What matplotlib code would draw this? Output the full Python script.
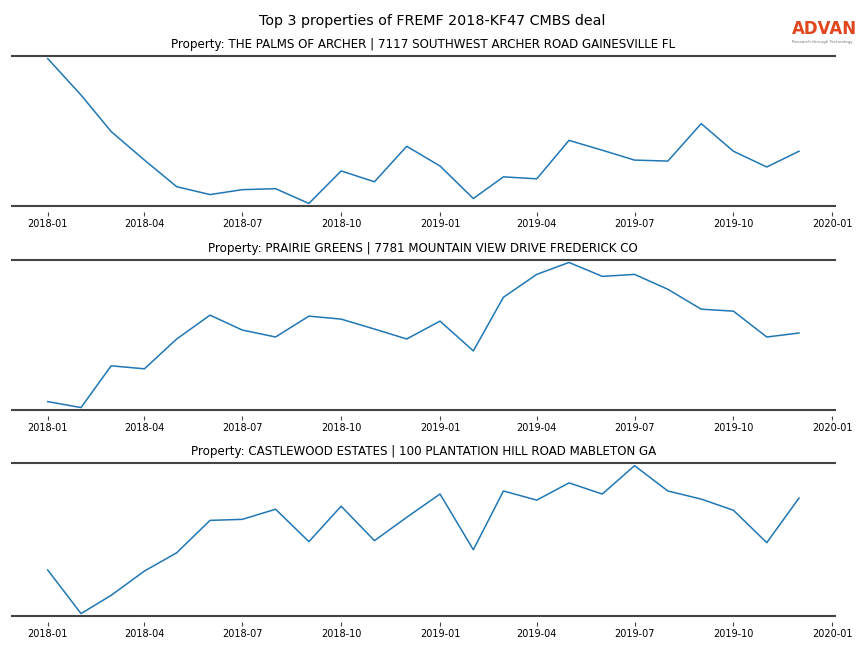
import pandas as pd
from matplotlib import pyplot as plt

months = pd.date_range('2018-01-01', '2019-12-01', freq='MS')

titles = ['Property: THE PALMS OF ARCHER | 7117 SOUTHWEST ARCHER ROAD GAINESVILLE FL',
          'Property: PRAIRIE GREENS | 7781 MOUNTAIN VIEW DRIVE FREDERICK CO',
          'Property: CASTLEWOOD ESTATES | 100 PLANTATION HILL ROAD MABLETON GA']

# values (arbitrary scale, no y axis shown)
palms = [148, 111, 74, 45, 18, 10, 15, 16, 1, 34, 23, 59,
         39, 6, 28, 26, 65, 55, 45, 44, 82, 54, 38, 54]
prairie = [7, 1, 43, 40, 70, 94, 79, 72, 93, 90, 80, 70,
           88, 58, 112, 135, 147, 133, 135, 120, 100, 98, 72, 76]
castle = [46, 3, 21, 45, 63, 95, 96, 106, 74, 109, 75, 98,
          121, 66, 124, 115, 132, 121, 149, 124, 116, 105, 73, 117]

series = [palms, prairie, castle]

fig = plt.figure(figsize=(8.64, 6.48), dpi=100)
fig.suptitle('Top 3 properties of FREMF 2018-KF47 CMBS deal', y=0.978, fontsize=10.3)

boxes = [(0.682, 0.9136), (0.367, 0.599), (0.049, 0.2855)]
ticks = pd.date_range('2018-01-01', '2020-01-01', freq='3MS')

for (b, t), title, vals in zip(boxes, titles, series):
    ax = fig.add_axes([0.0135, b, 0.953, t - b])
    ax.plot(months, vals, color='#1f77b4', lw=1.1)
    ax.margins(x=0.048, y=0.018)
    ax.set_title(title, fontsize=8.6, pad=6)
    for s in ['left', 'right', 'top', 'bottom']:
        ax.spines[s].set_visible(False)
    ax.spines['bottom'].set_position(('outward', 4))
    for yy in (0, 1):
        ax.plot([0, 1], [yy, yy], color='#444444', lw=1.5, clip_on=False,
                transform=ax.transAxes)
    ax.set_yticks([])
    ax.set_xticks(ticks)
    ax.set_xticklabels([d.strftime('%Y-%m') for d in ticks], fontsize=7)
    ax.tick_params(axis='x', length=3, width=0.8, color='#444444', pad=2)

fig.text(0.9165, 0.947, 'ADVAN', color='#e0461f', fontsize=12, fontweight='semibold', ha='left')
fig.text(0.9165, 0.939, 'Research through Technology', color='#777777', fontsize=3,
         ha='left', va='top')

fig.savefig('out.png')
